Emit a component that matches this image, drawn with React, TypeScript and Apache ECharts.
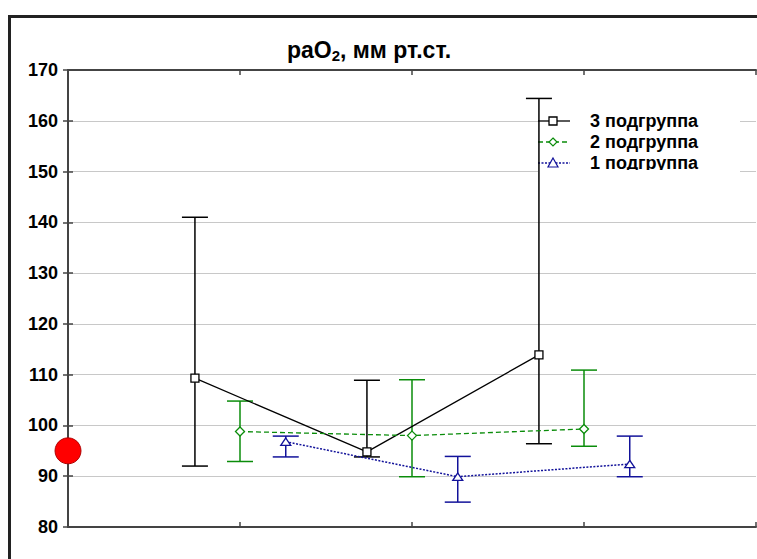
import React, { useEffect, useRef } from "react";
import * as echarts from "echarts";

// ---- data ----
const timepoints = [1, 2, 3];
const seriesNames = ["3 подгруппа", "2 подгруппа", "1 подгруппа"];
const group3Mean = [109.3, 94.8, 113.9];
const group3Upper = [141.0, 108.9, 164.4];
const group3Lower = [92.0, 93.8, 96.4];
const group2Mean = [98.8, 98.0, 99.3];
const group2Upper = [104.8, 109.0, 110.9];
const group2Lower = [92.9, 89.9, 95.9];
const group1Mean = [96.8, 89.9, 92.4];
const group1Upper = [97.9, 93.9, 97.9];
const group1Lower = [93.8, 84.9, 89.9];
const referenceValue = [95];
const yMin = 80;
const yMax = 170;
const yStep = 10;
const titleMain = "paO";
const titleSub = "2";
const titleRest = ", мм рт.ст.";

const FONT = "'Liberation Sans', Arial, sans-serif";
const BLACK = "#000000";
const GREEN = "#0a8c0a";
const BLUE = "#12129a";

const DIAMOND = "path://M0,-1 L1,0 L0,1 L-1,0 Z";
const TRIANGLE = "path://M0,-1 L1.1,0.8 L-1.1,0.8 Z";

function errorSeries(name: string, xs: number[], lower: number[], upper: number[], color: string) {
  return {
    type: "custom",
    name: name + " err",
    z: 4,
    clip: false,
    data: xs.map((x, i) => [x, lower[i], upper[i]]),
    encode: { x: 0, y: [1, 2] },
    renderItem: (params: any, api: any) => {
      const x = api.value(0);
      const lo = api.coord([x, api.value(1)]);
      const hi = api.coord([x, api.value(2)]);
      const hw = 13;
      const st = { stroke: color, lineWidth: 1.5 };
      return {
        type: "group",
        children: [
          { type: "line", shape: { x1: lo[0], y1: lo[1], x2: hi[0], y2: hi[1] }, style: st },
          { type: "line", shape: { x1: lo[0] - hw, y1: lo[1], x2: lo[0] + hw, y2: lo[1] }, style: st },
          { type: "line", shape: { x1: hi[0] - hw, y1: hi[1], x2: hi[0] + hw, y2: hi[1] }, style: st },
        ],
      };
    },
  };
}

function meanSeries(name: string, xs: number[], mean: number[], color: string, symbol: string, size: any, lineType: any, width: number) {
  return {
    type: "line",
    name,
    z: 5,
    data: xs.map((x, i) => [x, mean[i]]),
    symbol,
    symbolSize: size,
    symbolKeepAspect: true,
    showAllSymbol: true,
    lineStyle: { color, width, type: lineType },
    itemStyle: { color: "#ffffff", borderColor: color, borderWidth: 1.3, opacity: 1 },
    emphasis: { disabled: true },
  };
}

export default function App() {
  const ref = useRef<HTMLDivElement>(null);
  useEffect(() => {
    if (!ref.current) return;
    const chart = echarts.init(ref.current, undefined, { renderer: "svg" });
    const off3 = -0.262;
    const off2 = 0;
    const off1 = 0.266;
    const xs3 = timepoints.map((t) => t + off3);
    const xs2 = timepoints.map((t) => t + off2);
    const xs1 = timepoints.map((t) => t + off1);

    const legendX = 538;
    const legendY0 = 121;
    const legendDy = 21;
    const legendStyles = [
      { color: BLACK, dash: "solid", marker: "square" },
      { color: GREEN, dash: [5, 3], marker: "diamond" },
      { color: BLUE, dash: [2, 1.5], marker: "triangle" },
    ];
    const legendEls: any[] = [
      { type: "rect", z: 1, shape: { x: legendX, y: 106, width: 202, height: 69 }, style: { fill: "#ffffff" } },
    ];
    seriesNames.forEach((n, i) => {
      const y = legendY0 + i * legendDy;
      const s = legendStyles[i];
      legendEls.push({
        type: "line",
        z: 2,
        shape: { x1: legendX, y1: y, x2: legendX + 32, y2: y },
        style: { stroke: s.color, lineWidth: 1.3, lineDash: s.dash === "solid" ? null : s.dash },
      });
      const cx = legendX + 15;
      if (s.marker === "square") {
        legendEls.push({ type: "rect", z: 3, shape: { x: cx - 4, y: y - 4, width: 8, height: 8 }, style: { fill: "#fff", stroke: s.color, lineWidth: 1.3 } });
      } else if (s.marker === "diamond") {
        legendEls.push({ type: "polygon", z: 3, shape: { points: [[cx, y - 4], [cx + 4, y], [cx, y + 4], [cx - 4, y]] }, style: { fill: "#fff", stroke: s.color, lineWidth: 1.2 } });
      } else {
        legendEls.push({ type: "polygon", z: 3, shape: { points: [[cx, y - 5], [cx + 5, y + 4], [cx - 5, y + 4]] }, style: { fill: "#fff", stroke: s.color, lineWidth: 1.2 } });
      }
      legendEls.push({
        type: "text",
        z: 2,
        x: 590,
        y,
        style: { text: n, fill: "#000", font: `bold 18px ${FONT}`, textAlign: "left", textVerticalAlign: "middle" },
      });
    });
    legendEls.push({ type: "rect", z: 3, shape: { x: 585, y: 170, width: 150, height: 6 }, style: { fill: "#ffffff" } });

    const axisCol = "#444";
    const option: any = {
      animation: false,
      backgroundColor: "#ffffff",
      grid: { left: 68, top: 70, right: 1, bottom: 32, containLabel: false },
      xAxis: [
        {
          type: "value",
          min: 0,
          max: 4,
          interval: 1,
          position: "bottom",
          axisLine: { show: true, lineStyle: { color: axisCol, width: 2 } },
          axisTick: { show: true, inside: true, length: 5, lineStyle: { color: axisCol, width: 1.5 } },
          axisLabel: { show: false },
          splitLine: { show: false },
        },
        {
          type: "value",
          min: 0,
          max: 4,
          interval: 1,
          position: "top",
          axisLine: { show: true, lineStyle: { color: axisCol, width: 2 } },
          axisTick: { show: true, inside: true, length: 5, lineStyle: { color: axisCol, width: 1.5 } },
          axisLabel: { show: false },
          splitLine: { show: false },
        },
      ],
      yAxis: [
        {
          type: "value",
          min: yMin,
          max: yMax,
          interval: yStep,
          position: "left",
          axisLine: { show: true, lineStyle: { color: axisCol, width: 2 } },
          axisTick: { show: true, inside: false, length: 5, lineStyle: { color: axisCol, width: 1.5 } },
          axisLabel: { show: true, color: "#000", fontFamily: FONT, fontWeight: "bold", fontSize: 18, margin: 10 },
          splitLine: { show: true, lineStyle: { color: "#c8c8c8", width: 1 } },
        },
        {
          type: "value",
          min: yMin,
          max: yMax,
          interval: yStep,
          position: "right",
          axisLine: { show: true, lineStyle: { color: axisCol, width: 2 } },
          axisTick: { show: true, inside: false, length: 5, lineStyle: { color: axisCol, width: 1.5 } },
          axisLabel: { show: false },
          splitLine: { show: false },
        },
      ],
      graphic: [
        { type: "rect", z: 0, shape: { x: 9.5, y: 16.5, width: 900, height: 700 }, style: { fill: "none", stroke: "#222", lineWidth: 3 } },
        {
          type: "text",
          z: 2,
          x: 369,
          y: 50,
          style: {
            text: `{b|${titleMain}}{s|${titleSub}}{b|${titleRest}}`,
            textAlign: "center",
            textVerticalAlign: "middle",
            rich: {
              b: { font: `bold 23px ${FONT}`, fill: "#000" },
              s: { font: `bold 15px ${FONT}`, fill: "#000", padding: [10, 0, 0, 0] },
            },
          },
        },
        ...legendEls,
      ],
      series: [
        errorSeries(seriesNames[0], xs3, group3Lower, group3Upper, BLACK),
        errorSeries(seriesNames[1], xs2, group2Lower, group2Upper, GREEN),
        errorSeries(seriesNames[2], xs1, group1Lower, group1Upper, BLUE),
        meanSeries(seriesNames[0], xs3, group3Mean, BLACK, "rect", 8, "solid", 1.3),
        meanSeries(seriesNames[1], xs2, group2Mean, GREEN, DIAMOND, 9, [5, 3], 1.3),
        meanSeries(seriesNames[2], xs1, group1Mean, BLUE, TRIANGLE, [10, 9], [2, 1.5], 1.5),
        {
          type: "scatter",
          name: "reference",
          z: 6,
          clip: false,
          data: referenceValue.map((v) => [0, v]),
          symbol: "circle",
          symbolSize: 26,
          itemStyle: { color: "#ff0000", borderColor: "#b00000", borderWidth: 1, opacity: 1 },
          emphasis: { disabled: true },
        },
      ],
    };
    chart.setOption(option);
    return () => chart.dispose();
  }, []);
  return <div ref={ref} style={{ position: "fixed", left: 0, top: 0, width: 757, height: 559 }} />;
}
